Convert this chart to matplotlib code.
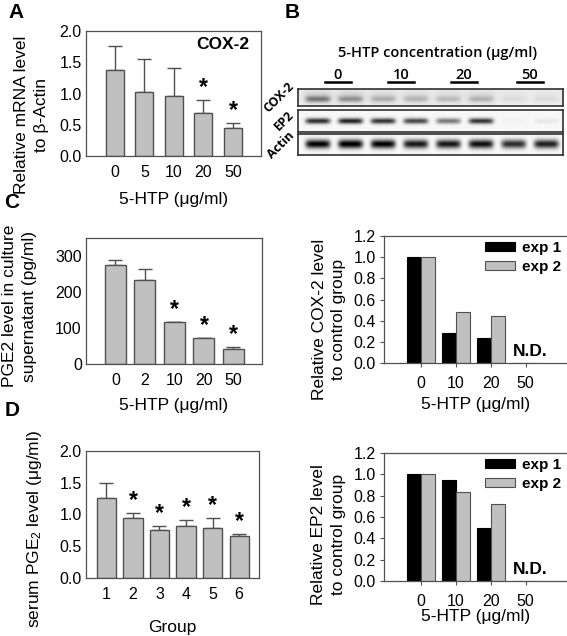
import numpy as np
import matplotlib
matplotlib.use("Agg")
import matplotlib.pyplot as plt

plt.rcParams['font.family'] = ['Liberation Sans', 'DejaVu Sans']
plt.rcParams['mathtext.fontset'] = 'custom'
plt.rcParams['mathtext.rm'] = 'Liberation Sans'
plt.rcParams['mathtext.it'] = 'Liberation Sans:italic'

# ---- data ----
mrna_doses = ['0', '5', '10', '20', '50']
mrna_mean = [1.37, 1.03, 0.96, 0.69, 0.45]
mrna_err = [0.39, 0.52, 0.45, 0.21, 0.08]
mrna_sig = [False, False, False, True, True]

pge2_doses = ['0', '2', '10', '20', '50']
pge2_mean = [275, 233, 116, 72, 43]
pge2_err = [15, 30, 1, 0.5, 5]
pge2_sig = [False, False, True, True, True]

serum_groups = ['1', '2', '3', '4', '5', '6']
serum_mean = [1.265, 0.94, 0.755, 0.815, 0.79, 0.66]
serum_err = [0.235, 0.09, 0.065, 0.105, 0.155, 0.04]
serum_sig = [False, True, True, True, True, True]

blot_doses = ['0', '10', '20', '50']
cox2_exp1 = [1.0, 0.28, 0.24, np.nan]
cox2_exp2 = [1.0, 0.48, 0.44, np.nan]
ep2_exp1 = [1.0, 0.95, 0.50, np.nan]
ep2_exp2 = [1.0, 0.83, 0.72, np.nan]

# western blot band intensities, 8 lanes (2 per dose)
blot_rows = ['COX-2', 'EP2', 'Actin']
cox2_band = [0.38, 0.28, 0.18, 0.16, 0.14, 0.17, 0.04, 0.04]
cox2_haze = [0.12, 0.11, 0.09, 0.08, 0.07, 0.08, 0.03, 0.03]
ep2_band = [0.80, 0.85, 0.78, 0.70, 0.50, 0.78, 0.02, 0.06]
actin_band = [0.97, 1.00, 0.97, 0.88, 0.88, 0.92, 0.80, 0.85]

W, H = 567, 636
fig = plt.figure(figsize=(W / 100, H / 100), dpi=100)


def box(x0, y0, x1, y1):
    return [x0 / W, 1 - y1 / H, (x1 - x0) / W, (y1 - y0) / H]


def fx(x):
    return x / W


def fy(y):
    return 1 - y / H


bar_fc = '#c0c0c0'
bar_ec = '#505050'
TICK = 11.5
LAB = 12.5
xl_dose = '5-HTP (μg/ml)'


def set_labels(ax, ylabel, ylab_xy, xlabel, xlab_y):
    ax.set_ylabel(ylabel, fontsize=LAB, linespacing=1.4)
    ax.yaxis.set_label_coords(*ylab_xy)
    ax.yaxis.label.set_verticalalignment('center')
    ax.set_xlabel(xlabel, fontsize=LAB)
    ax.xaxis.set_label_coords(0.5, xlab_y)
    ax.xaxis.label.set_verticalalignment('center')


def sem_panel(rect, labels, mean, err, sig, width, xlim, ylim, yticks, fmt,
              ylabel, ylab_xy, xlabel, xlab_y):
    ax = fig.add_axes(rect)
    x = np.arange(len(labels))
    ax.bar(x, mean, width=width, color=bar_fc, edgecolor=bar_ec, linewidth=1.0, zorder=2)
    ax.errorbar(x, mean, yerr=[np.zeros(len(err)), err], fmt='none',
                ecolor=bar_ec, elinewidth=1.0, capsize=5, capthick=1.0, zorder=1)
    span = ylim[1] - ylim[0]
    for xi, m, e, s in zip(x, mean, err, sig):
        if s:
            ax.text(xi, m + e + 0.005 * span, '*', ha='center', va='bottom',
                    fontsize=16.5, fontweight='bold')
    ax.set_xlim(*xlim)
    ax.set_ylim(*ylim)
    ax.set_xticks(x, labels)
    ax.set_yticks(yticks, [fmt.format(v) for v in yticks])
    ax.tick_params(length=0, labelsize=TICK)
    ax.tick_params(axis='x', pad=6.5)
    ax.tick_params(axis='y', pad=3)
    for s in ax.spines.values():
        s.set_color('#505050')
        s.set_linewidth(0.9)
    set_labels(ax, ylabel, ylab_xy, xlabel, xlab_y)
    return ax


axA = sem_panel(box(86, 31, 261, 156), mrna_doses, mrna_mean, mrna_err, mrna_sig,
                0.61, (-0.98, 4.95), (0, 2.0), np.arange(0, 2.01, 0.5), '{:.1f}',
                'Relative mRNA level\nto β-Actin', (-0.31, 0.33), xl_dose, -0.35)
axA.text(0.78, 0.89, 'COX-2', transform=axA.transAxes, ha='center', va='center',
         fontsize=12.5, fontweight='bold')

axC = sem_panel(box(86, 238, 262, 364), pge2_doses, pge2_mean, pge2_err, pge2_sig,
                0.71, (-1.0, 4.97), (0, 350), [0, 100, 200, 300], '{:.0f}',
                'PGE2 level in culture\nsupernatant (pg/ml)', (-0.38, 0.46), xl_dose, -0.33)

axD = sem_panel(box(86, 451, 259, 578), serum_groups, serum_mean, serum_err, serum_sig,
                0.72, (-0.77, 5.75), (0, 2.0), np.arange(0, 2.01, 0.5), '{:.1f}',
                'serum PGE$_2$ level (μg/ml)', (-0.298, 0.386), 'Group', -0.39)


def exp_panel(rect, e1, e2, ylabel, ylab_xy, xlab_y):
    ax = fig.add_axes(rect)
    x = np.arange(len(blot_doses))
    ax.bar(x - 0.2, np.nan_to_num(e1), width=0.4, color='black', edgecolor='black',
           linewidth=0.8, label='exp 1')
    ax.bar(x + 0.2, np.nan_to_num(e2), width=0.4, color=bar_fc, edgecolor=bar_ec,
           linewidth=0.8, label='exp 2')
    ax.set_xlim(-1.05, 4.18)
    ax.set_ylim(0, 1.2)
    ax.set_xticks(x, blot_doses)
    yt = np.arange(0, 1.21, 0.2)
    ax.set_yticks(yt, ['{:.1f}'.format(v) for v in yt])
    ax.tick_params(length=3, width=0.8, labelsize=TICK, color='#505050')
    ax.tick_params(axis='x', pad=6)
    ax.tick_params(axis='y', pad=3)
    ax.spines['right'].set_visible(False)
    for s in ax.spines.values():
        s.set_color('#505050')
        s.set_linewidth(0.9)
    ax.text(0.80, 0.087, 'N.D.', transform=ax.transAxes, ha='center', va='center',
            fontsize=12.5, fontweight='bold')
    ax.legend(loc='upper left', bbox_to_anchor=(0.55, 0.96), frameon=False,
              borderpad=0, borderaxespad=0, handlelength=2.0, handleheight=0.55,
              handletextpad=0.45, labelspacing=0.3,
              prop={'weight': 'bold', 'size': 11})
    set_labels(ax, ylabel, ylab_xy, xl_dose, xlab_y)
    return ax


axR1 = exp_panel(box(384, 236, 567, 363), cox2_exp1, cox2_exp2,
                 'Relative COX-2 level\nto control group', (-0.30, 0.346), -0.33)
axR2 = exp_panel(box(384, 453, 567, 581), ep2_exp1, ep2_exp2,
                 'Relative EP2 level\nto control group', (-0.303, 0.36), -0.28)


# ---- panel B: western blot ----
def strip(rect, band, haze, bg, sy, yc):
    ax = fig.add_axes(rect)
    xs = np.linspace(-0.6, 7.5, 400)
    ys = np.linspace(0, 1, 60)
    X, Y = np.meshgrid(xs, ys)
    img = np.full_like(X, bg)
    for i, b in enumerate(band):
        prof = np.exp(-((X - i) / 0.38) ** 6)
        img -= b * prof * np.exp(-((Y - yc) / sy) ** 2)
        if haze is not None:
            img -= haze[i] * np.exp(-((X - i) / 0.45) ** 4) * np.exp(-((Y - 0.45) / 0.4) ** 2)
    ax.imshow(np.clip(img, 0, 1), cmap='gray', vmin=0, vmax=1, aspect='auto',
              extent=(-0.6, 7.5, 1, 0), interpolation='bilinear')
    ax.set_xticks([])
    ax.set_yticks([])
    for s in ax.spines.values():
        s.set_color('#303030')
        s.set_linewidth(1.2)
    return ax


strip(box(298, 89, 563, 106), cox2_band, cox2_haze, 0.93, 0.18, 0.6)
strip(box(298, 110, 563, 132), ep2_band, None, 0.97, 0.13, 0.5)
strip(box(298, 134, 563, 155), actin_band, None, 0.97, 0.2, 0.5)

blot_font = ['Open Sans', 'DejaVu Sans']
fig.text(fx(438), fy(53), '5-HTP concentration (μg/ml)', ha='center', va='center',
         fontsize=10.5, fontweight='semibold', family=blot_font)
group_x = [338, 401, 464, 530]
for gx, lab in zip(group_x, blot_doses):
    fig.text(fx(gx), fy(75), lab, ha='center', va='center', fontsize=10.5,
             fontweight='semibold', family=blot_font)
    fig.add_artist(plt.Line2D([fx(gx - 13), fx(gx + 13)], [fy(82), fy(82)],
                              color='black', linewidth=1.8))
for yc, lab in zip([97, 121, 145], blot_rows):
    fig.text(fx(297), fy(yc), lab, ha='right', va='center', rotation=45,
             fontsize=9, fontweight='bold', family=blot_font)

# panel letters
for px, py, let in [(16, 13, 'A'), (292, 12, 'B'), (12, 202, 'C'), (12, 411, 'D')]:
    fig.text(fx(px), fy(py), let, ha='center', va='center', fontsize=15,
             fontweight='bold')

fig.savefig('out.png', dpi=100)
